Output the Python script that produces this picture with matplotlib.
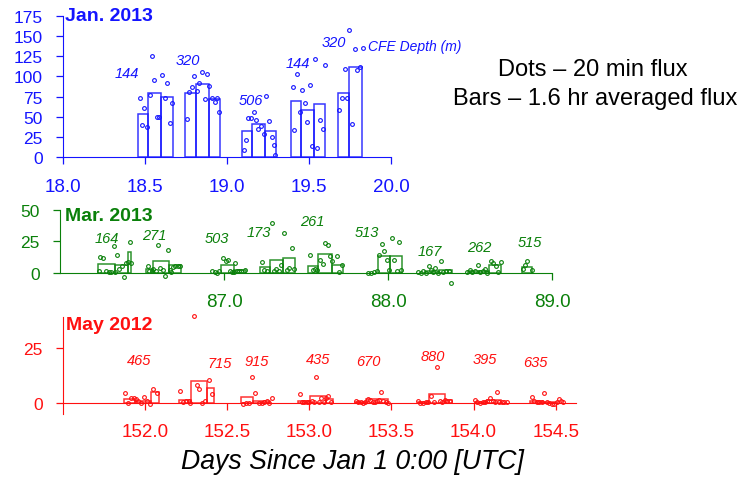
import numpy as np
import matplotlib
matplotlib.use("Agg")
from matplotlib import pyplot as plt

plt.rcParams['font.family'] = ['Liberation Sans', 'DejaVu Sans']

W, H = 744, 481

# ---- Jan. 2013 ----
jan_bar_start = [18.457, 18.518, 18.598, 18.744, 18.807, 18.887, 19.091, 19.152, 19.232,
                 19.388, 19.449, 19.529, 19.677, 19.742]
jan_bar_end = [18.518, 18.598, 18.667, 18.807, 18.887, 18.956, 19.152, 19.232, 19.301,
               19.449, 19.529, 19.600, 19.742, 19.821]
jan_bar_flux = [53, 79.5, 75, 79, 91, 72, 32, 41, 33, 70, 59, 66, 79, 111]

jan_dot_day = [18.466, 18.478, 18.494, 18.508, 18.527, 18.539, 18.555, 18.571, 18.582, 18.604, 18.618, 18.634, 18.649, 18.663,
               18.754, 18.768, 18.785, 18.799, 18.813, 18.829, 18.846, 18.862, 18.876, 18.890, 18.907, 18.923, 18.939, 18.949,
               19.100, 19.116, 19.128, 19.143, 19.163, 19.175, 19.191, 19.205, 19.222, 19.240, 19.256, 19.271, 19.285, 19.295,
               19.399, 19.411, 19.427, 19.443, 19.457, 19.474, 19.488, 19.504, 19.518, 19.535, 19.551, 19.567, 19.582, 19.596,
               19.685, 19.701, 19.717, 19.732, 19.746, 19.762, 19.780, 19.795, 19.811, 19.827]
jan_dot_flux = [73.3, 40, 60.5, 37, 77, 124.8, 95.5, 50, 50, 101.7, 73, 91.5, 42, 67.5,
                47.3, 80.7, 87, 100.5, 82, 92, 106, 72.5, 103.4, 88, 73, 68.8, 73.3, 56,
                9.4, 21.4, 49, 49, 55.6, 46, 34.6, 38.7, 28.8, 75.8, 44.9, 25.1, 15.6, 3.2,
                87.3, 33.7, 102.6, 56, 83.6, 67.5, 44, 89.4, 14, 121.5, 11.5, 46, 35.4, 114.5,
                58.5, 73.3, 109, 73, 157.8, 41.2, 133.9, 107.5, 111.2, 134.7]

jan_depths = ['144', '320', '506', '144', '320']
jan_depth_x = [18.39, 18.76, 19.145, 19.43, 19.65]
jan_depth_y = [104, 120, 70.5, 117, 142]

# ---- Mar. 2013 ----
mar_bar_start = [86.229, 86.335, 86.412, 86.525, 86.566, 86.666, 86.980, 87.059, 87.220, 87.280, 87.359,
                 87.514, 87.575, 87.657, 87.938, 88.014, 88.225, 88.310, 88.490, 88.552, 88.613, 88.818]
mar_bar_end = [86.335, 86.412, 86.435, 86.566, 86.666, 86.740, 87.059, 87.137, 87.280, 87.359, 87.430,
               87.575, 87.657, 87.727, 88.014, 88.084, 88.310, 88.388, 88.552, 88.613, 88.687, 88.879]
mar_bar_flux = [7.0, 6.0, 16.4, 3.0, 9.2, 6.5, 6.3, 2.4, 4.5, 10.4, 12.1,
                5.3, 15.0, 6.5, 13.6, 13.6, 1.8, 2.6, 1.3, 1.8, 6.3, 4.8]

mar_dot_day = [86.236, 86.246, 86.264, 86.282, 86.297, 86.311, 86.329, 86.334, 86.346, 86.360, 86.376, 86.392, 86.404, 86.413, 86.425, 86.431,
               86.535, 86.543, 86.559, 86.569, 86.587, 86.598, 86.612, 86.626, 86.642, 86.659, 86.671, 86.675, 86.687, 86.703, 86.717, 86.730,
               86.929, 86.945, 86.959, 86.971, 86.992, 87.010, 87.023, 87.035, 87.049, 87.063, 87.067, 87.077, 87.091, 87.104, 87.126,
               87.230, 87.246, 87.264, 87.291, 87.307, 87.317, 87.334, 87.350, 87.368, 87.382, 87.398, 87.415, 87.425,
               87.524, 87.541, 87.555, 87.567, 87.585, 87.602, 87.618, 87.634, 87.646, 87.657, 87.691, 87.703, 87.721,
               87.880, 87.896, 87.913, 87.931, 87.945, 87.962, 87.976, 87.992, 88.008, 88.022, 88.037, 88.053, 88.069, 88.079,
               88.185, 88.199, 88.215, 88.230, 88.248, 88.262, 88.276, 88.289, 88.305, 88.323, 88.337, 88.354, 88.370, 88.382,
               88.484, 88.500, 88.514, 88.530, 88.547, 88.561, 88.577, 88.591, 88.605, 88.626, 88.642, 88.657, 88.673, 88.687,
               88.821, 88.837, 88.849, 88.876]
mar_dot_flux = [1.3, 12.9, 11.9, 1.6, 0.5, 0.5, 21.1, 0.5, 14.5, 3.2, 5.8, -3.4, 7.7, 8.4, 24.8, 7.7,
                5.5, 1.3, 1.8, 3.2, 1.8, 22.1, 3.7, 2.6, -2.1, 18.2, 2.6, 1.0, 4.5, 5.5, 5.8, 5.8,
                1.8, 0.8, 0.3, 1.3, 12.1, 9.2, 10.3, 1.3, 1.0, 1.0, 8.2, 1.6, 1.8, 1.3, 2.4,
                8.9, 2.6, 1.8, 39.5, 1.8, 3.4, 1.3, 6.3, 31.6, 2.4, 3.7, 20.0, 3.2,
                14.2, 2.6, 3.2, 2.0, 10.5, 7.1, 23.5, 22.4, 13.2, 9.2, 13.7, 1.0, 6.6,
                0.0, 0.0, 0.5, 1.3, 14.5, 22.9, 17.6, 10.5, 2.1, 27.7, 10.5, 1.8, 24.7, 2.1,
                1.0, 0.0, 1.8, -0.3, 5.3, 2.6, 1.0, 4.0, 0.0, 9.2, 0.5, 1.6, 1.6, -8.2,
                0.5, 2.6, 1.0, 1.3, 6.6, 0.8, 1.3, 3.2, 0.3, 9.5, 7.9, 5.3, 0.5, 8.9,
                3.2, 6.3, 9.5, 2.1]

mar_depths = ['164', '271', '503', '173', '261', '513', '167', '262', '515']
mar_depth_x = [86.285, 86.573, 86.959, 87.215, 87.541, 87.87, 88.252, 88.555, 88.862]
mar_depth_y = [27.7, 30.3, 27.7, 32.6, 41.3, 32.6, 17.6, 20.3, 24.3]

# ---- May 2012 ----
may_bar_start = [151.870, 151.940, 152.037, 152.205, 152.280, 152.376, 152.585, 152.660, 152.930, 153.006,
                 153.104, 153.276, 153.347, 153.662, 153.729, 153.825, 154.008, 154.083, 154.343, 154.424]
may_bar_end = [151.940, 152.037, 152.083, 152.280, 152.376, 152.418, 152.660, 152.758, 153.006, 153.104,
               153.144, 153.347, 153.479, 153.729, 153.825, 153.866, 154.083, 154.170, 154.424, 154.516]
may_bar_flux = [2.0, 0.8, 4.8, 1.5, 9.8, 6.7, 2.6, 0.9, 1.0, 3.2,
                1.8, 0.6, 1.8, 0.6, 3.9, 1.5, 0.6, 1.5, 0.9, 0.3]

may_dot_day = [151.880, 151.898, 151.915, 151.930, 151.945, 151.959, 151.977, 151.994, 152.014, 152.030, 152.049, 152.071,
               152.215, 152.233, 152.250, 152.266, 152.276, 152.295, 152.313, 152.331, 152.349, 152.366, 152.388, 152.406,
               152.595, 152.613, 152.632, 152.652, 152.671, 152.691, 152.709, 152.726, 152.740, 152.754, 152.770,
               152.945, 152.955, 152.969, 152.984, 152.998, 153.014, 153.028, 153.038, 153.059, 153.073, 153.089, 153.104, 153.116, 153.132,
               153.282, 153.296, 153.313, 153.327, 153.341, 153.357, 153.372, 153.386, 153.400, 153.415, 153.424, 153.437, 153.451, 153.465, 153.482,
               153.662, 153.677, 153.693, 153.709, 153.723, 153.738, 153.758, 153.776, 153.795, 153.811, 153.827, 153.839, 153.854,
               154.008, 154.024, 154.038, 154.055, 154.071, 154.085, 154.101, 154.116, 154.130, 154.142, 154.156, 154.173, 154.187, 154.201,
               154.354, 154.368, 154.384, 154.400, 154.415, 154.429, 154.445, 154.461, 154.475, 154.491, 154.506, 154.520, 154.533, 154.546]
may_dot_flux = [4.4, -0.1, 2.4, 2.4, 1.7, 0.9, 0.1, 2.7, 0.8, -0.5, 6.4, 4.5,
                5.6, 0.6, 1.0, 0.9, -0.1, 39.7, 8.3, 6.2, -0.1, 0.8, 10.5, 4.1,
                -0.5, 0.0, 0.1, 11.7, 4.4, 0.1, -0.1, 0.3, 0.8, 0.1, 2.4,
                4.1, 0.5, 0.3, 0.3, 0.6, 0.8, 0.6, 11.7, 0.6, 2.1, 0.6, 2.4, 3.2, 0.3,
                0.8, 0.3, 0.3, 0.1, 0.6, 2.0, 1.2, 0.6, 0.5, 0.8, 1.2, 4.8, 1.0, 0.6, 0.1,
                0.8, 0.1, 0.0, 0.3, 0.6, 3.0, 0.5, 16.2, 0.9, 0.6, 1.5, 0.9, 0.8,
                1.4, 0.3, 0.0, 0.3, 0.6, 1.0, 2.1, 1.0, 0.6, 4.8, 0.3, 0.6, 0.3, 0.6,
                2.6, 0.9, 0.6, 0.5, 0.3, 4.5, 0.3, 0.0, -0.3, -0.5, 0.5, 1.8, 1.0, 0.6]

may_depths = ['465', '715', '915', '435', '670', '880', '395', '635']
may_depth_x = [151.965, 152.453, 152.677, 153.052, 153.357, 153.754, 154.069, 154.378]
may_depth_y = [19.5, 18.2, 19.0, 20.0, 19.2, 21.5, 20.0, 18.5]

BLUE = '#1414ff'
GREEN = '#0a800a'
RED = '#ff1010'


def px_box(x0, x1, y_top, y_bottom):
    # axes rectangle from pixel positions in the 744x481 picture
    return [x0 / W, 1 - y_bottom / H, (x1 - x0) / W, (y_bottom - y_top) / H]


def draw_panel(ax, color, bar_start, bar_end, bar_flux, dot_day, dot_flux,
               depths, depth_x, depth_y):
    widths = np.subtract(bar_end, bar_start)
    ax.bar(bar_start, bar_flux, width=widths, align='edge', fill=False,
           edgecolor=color, linewidth=1.1, alpha=0.85)
    ax.plot(dot_day, dot_flux, 'o', ms=2.7, mfc='none', mec=color, mew=0.8, clip_on=False)
    for txt, x, y in zip(depths, depth_x, depth_y):
        ax.text(x, y, txt, color=color, style='italic', fontsize=10.5, ha='center', va='center')

    ax.spines['top'].set_visible(False)
    ax.spines['right'].set_visible(False)
    ax.spines['left'].set_color(color)
    ax.spines['bottom'].set_color(color)
    ax.spines['bottom'].set_position(('data', 0))
    ax.patch.set_alpha(0)
    ax.tick_params(axis='both', direction='out', length=4.7, width=0.9, color=color,
                   labelcolor=color, pad=10)
    ax.tick_params(axis='x', labelsize=13.5)
    ax.tick_params(axis='y', labelsize=12.5)


fig = plt.figure(figsize=(W / 100, H / 100), dpi=100)

# top panel
ax1 = fig.add_axes(px_box(63.3, 391, 16.7, 158.3))
draw_panel(ax1, BLUE, jan_bar_start, jan_bar_end, jan_bar_flux, jan_dot_day, jan_dot_flux,
           jan_depths, jan_depth_x, jan_depth_y)
ax1.set_xlim(18.0, 20.0)
ax1.set_ylim(0, 175)
ax1.set_xticks(np.arange(18.0, 20.01, 0.5))
ax1.set_xticklabels(['%.1f' % t for t in np.arange(18.0, 20.01, 0.5)])
ax1.set_yticks(range(0, 176, 25))
ax1.text(19.86, 137, 'CFE Depth (m)', color=BLUE, style='italic', fontsize=10, ha='left', va='center')
ax1.text(18.01, 175, 'Jan. 2013', color=BLUE, weight='bold', fontsize=14, ha='left', va='center')

# middle panel
ax2 = fig.add_axes(px_box(60, 552, 210.7, 286.7))
draw_panel(ax2, GREEN, mar_bar_start, mar_bar_end, mar_bar_flux, mar_dot_day, mar_dot_flux,
           mar_depths, mar_depth_x, mar_depth_y)
ax2.set_xlim(86.0, 89.0)
ax2.set_ylim(-10, 50)
ax2.spines['left'].set_bounds(0, 50)
ax2.set_xticks([87, 88, 89])
ax2.set_xticklabels(['87.0', '88.0', '89.0'])
ax2.set_yticks([0, 25, 50])
ax2.text(86.03, 45.5, 'Mar. 2013', color=GREEN, weight='bold', fontsize=14, ha='left', va='center')

# bottom panel
ax3 = fig.add_axes(px_box(63, 576, 316, 415))
draw_panel(ax3, RED, may_bar_start, may_bar_end, may_bar_flux, may_dot_day, may_dot_flux,
           may_depths, may_depth_x, may_depth_y)
ax3.set_xlim(151.5, 154.624)
ax3.set_ylim(-5, 40)
ax3.spines['left'].set_bounds(-5, 39)
ax3.set_xticks(np.arange(152.0, 154.51, 0.5))
ax3.set_xticklabels(['%.1f' % t for t in np.arange(152.0, 154.51, 0.5)])
ax3.set_yticks([0, 25])
ax3.text(151.52, 35.7, 'May 2012', color=RED, weight='bold', fontsize=14, ha='left', va='center')

fig.text(593 / W, 1 - 70 / H, 'Dots \u2013 20 min flux', fontsize=17, ha='center', va='center')
fig.text(595 / W, 1 - 99 / H, 'Bars \u2013 1.6 hr averaged flux', fontsize=17, ha='center', va='center')
fig.text(352 / W, 1 - 462 / H, 'Days Since Jan 1 0:00 [UTC]', style='italic', fontsize=19.2,
         ha='center', va='center')

fig.savefig('out.png', dpi=100)
